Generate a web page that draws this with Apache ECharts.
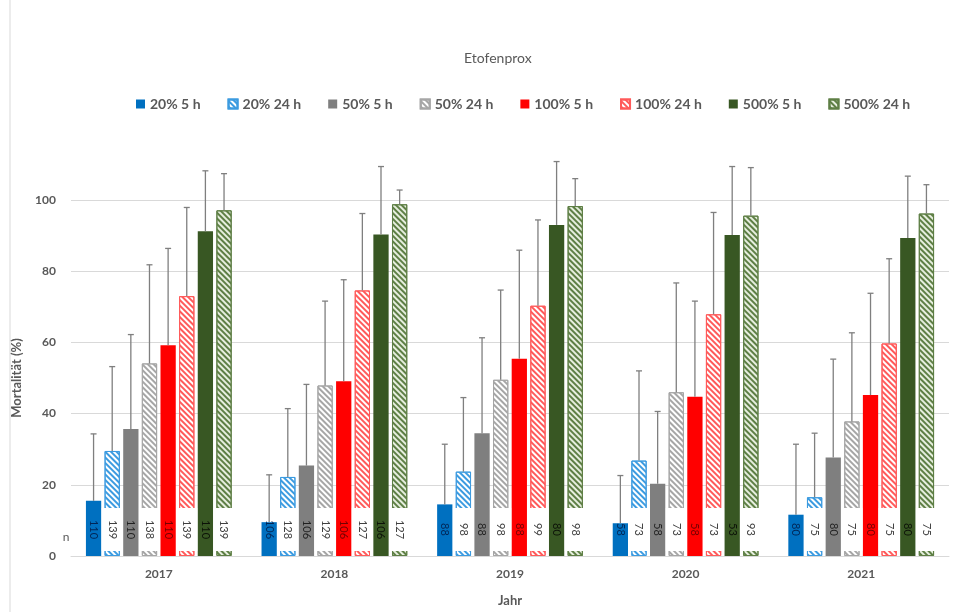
<!DOCTYPE html>
<html>
<head>
<meta charset="utf-8">
<script src="https://cdn.jsdelivr.net/npm/echarts@6/dist/echarts.min.js"></script>
<style>
  html, body { margin: 0; padding: 0; background: #fff; }
  #chart { width: 961px; height: 612px; }
</style>
</head>
<body>
<div id="chart"></div>
<script>
// Etofenprox mortality by year and dose/exposure time
const years = ['2017', '2018', '2019', '2020', '2021'];
const seriesNames = ['20% 5 h', '20% 24 h', '50% 5 h', '50% 24 h', '100% 5 h', '100% 24 h', '500% 5 h', '500% 24 h'];

// mean mortality (%)
const mean20_5h   = [15.5, 9.5, 14.5, 9.2, 11.6];
const mean20_24h  = [29.5, 22.2, 23.7, 26.8, 16.5];
const mean50_5h   = [35.7, 25.4, 34.5, 20.3, 27.7];
const mean50_24h  = [54.1, 47.9, 49.5, 46.0, 37.8];
const mean100_5h  = [59.2, 49.1, 55.4, 44.7, 45.2];
const mean100_24h = [73.0, 74.6, 70.3, 67.9, 59.7];
const mean500_5h  = [91.2, 90.3, 93.0, 90.2, 89.3];
const mean500_24h = [97.1, 98.8, 98.3, 95.6, 96.2];

// standard deviation (upper error bar)
const sd20_5h   = [18.8, 13.3, 16.9, 13.4, 19.8];
const sd20_24h  = [23.7, 19.2, 20.8, 25.2, 18.0];
const sd50_5h   = [26.5, 22.8, 26.8, 20.3, 27.6];
const sd50_24h  = [27.7, 23.7, 25.2, 30.7, 24.9];
const sd100_5h  = [27.2, 28.5, 30.5, 26.9, 28.6];
const sd100_24h = [24.9, 21.6, 24.1, 28.6, 23.8];
const sd500_5h  = [17.0, 19.1, 17.8, 19.2, 17.4];
const sd500_24h = [10.3, 4.0, 7.7, 13.5, 8.1];

// sample sizes (n)
const n20_5h   = [110, 106, 88, 58, 80];
const n20_24h  = [139, 128, 98, 73, 75];
const n50_5h   = [110, 106, 88, 58, 80];
const n50_24h  = [138, 129, 98, 73, 75];
const n100_5h  = [110, 106, 88, 58, 80];
const n100_24h = [139, 127, 99, 73, 75];
const n500_5h  = [110, 106, 80, 53, 80];
const n500_24h = [139, 127, 98, 93, 75];

const yTicks = [0, 20, 40, 60, 80, 100];

const means = [mean20_5h, mean20_24h, mean50_5h, mean50_24h, mean100_5h, mean100_24h, mean500_5h, mean500_24h];
const sds = [sd20_5h, sd20_24h, sd50_5h, sd50_24h, sd100_5h, sd100_24h, sd500_5h, sd500_24h];
const ns = [n20_5h, n20_24h, n50_5h, n50_24h, n100_5h, n100_24h, n500_5h, n500_24h];

// styling per series: solid (5 h) or hatched (24 h)
const styles = [
  { solid: true,  color: '#0070C0', text: 'rgba(0,20,60,0.8)' },
  { solid: false, color: '#3C9BE0', base: '#FFFFFF' },
  { solid: true,  color: '#7F7F7F', text: 'rgba(0,0,0,0.75)' },
  { solid: false, color: '#A6A6A6', base: '#FFFFFF' },
  { solid: true,  color: '#FF0000', text: 'rgba(70,0,0,0.75)' },
  { solid: false, color: '#FF5A5A', base: '#FFFFFF' },
  { solid: true,  color: '#385723', text: 'rgba(0,0,0,0.8)' },
  { solid: false, color: '#5E7F45', base: '#E6EEDE' }
];

const CAT_GAP = 0.17;
const BAR_GAP = 0.22;
const FONT = 'Lato, "Open Sans", sans-serif';
const GREY = '#595959';
const N = seriesNames.length;

// horizontal centre of bar `si` inside category `cat`, same layout rule as the bar series
function barCenterX(api, cat, si) {
  const band = api.size([1, 0])[0];
  const w = (band - band * CAT_GAP) / (N + (N - 1) * BAR_GAP);
  const total = N * w + (N - 1) * w * BAR_GAP;
  return api.coord([cat, 0])[0] - total / 2 + si * w * (1 + BAR_GAP) + w / 2;
}

const barSeries = seriesNames.map((name, i) => {
  const st = styles[i];
  const itemStyle = st.solid
    ? { color: st.color }
    : {
        color: st.base,
        borderColor: st.color,
        borderWidth: 1,
        decal: {
          symbol: 'rect',
          symbolSize: 1,
          color: st.color,
          dashArrayX: [1, 0],
          dashArrayY: [1.5, 1.5],
          rotation: Math.PI / 4
        }
      };
  return {
    name,
    type: 'bar',
    barGap: (BAR_GAP * 100) + '%',
    barCategoryGap: (CAT_GAP * 100) + '%',
    data: means[i],
    itemStyle,
    emphasis: { disabled: true },
    z: 2
  };
});

// error bars: [category, seriesIndex, mean, mean + sd]
const errData = [];
means.forEach((arr, i) => {
  arr.forEach((v, j) => errData.push([j, i, v, v + sds[i][j]]));
});

const errSeries = {
  type: 'custom',
  name: 'SD',
  data: errData,
  encode: { x: 0, y: 3 },
  clip: false,
  z: 5,
  silent: true,
  renderItem: function (params, api) {
    const cat = api.value(0);
    const x = barCenterX(api, cat, api.value(1));
    const y0 = api.coord([cat, api.value(2)])[1];
    const y1 = api.coord([cat, api.value(3)])[1];
    const style = { stroke: '#7F7F7F', lineWidth: 1.3 };
    return {
      type: 'group',
      children: [
        { type: 'line', shape: { x1: x, y1: y0, x2: x, y2: y1 }, style },
        { type: 'line', shape: { x1: x - 3, y1: y1, x2: x + 3, y2: y1 }, style }
      ]
    };
  }
};

// sample size labels at the foot of each bar: [category, seriesIndex, n]
const nData = [];
ns.forEach((arr, i) => {
  arr.forEach((v, j) => nData.push([j, i, v]));
});

const nSeries = {
  type: 'custom',
  name: 'n',
  data: nData,
  encode: { x: 0, y: 2 },
  clip: false,
  z: 6,
  silent: true,
  renderItem: function (params, api) {
    const cat = api.value(0);
    const si = api.value(1);
    const st = styles[si];
    const x = barCenterX(api, cat, si);
    const base = api.coord([cat, 0])[1];
    const cy = base - 26.5;
    const children = [];
    if (!st.solid) {
      children.push({
        type: 'rect',
        shape: { x: x - 10.5, y: cy - 21.5, width: 21, height: 43 },
        style: { fill: '#FFFFFF' }
      });
    }
    children.push({
      type: 'text',
      x: x,
      y: cy,
      rotation: -Math.PI / 2,
      style: {
        text: String(api.value(2)),
        fontFamily: FONT,
        fontSize: 11,
        fill: st.solid ? st.text : '#404040',
        align: 'center',
        verticalAlign: 'middle'
      }
    });
    return { type: 'group', children };
  }
};

const chart = echarts.init(document.getElementById('chart'), null, { renderer: 'canvas' });
chart.setOption({
  animation: false,
  backgroundColor: '#FFFFFF',
  title: {
    text: 'Etofenprox',
    left: 459,
    top: 46,
    textStyle: { fontFamily: FONT, fontSize: 14, fontWeight: 'normal', color: GREY }
  },
  legend: {
    data: seriesNames,
    top: 92,
    left: 131,
    itemWidth: 9,
    itemHeight: 9,
    itemGap: 27,
    icon: 'rect',
    textStyle: { fontFamily: FONT, fontSize: 14, fontWeight: 'bold', color: GREY }
  },
  grid: { left: 71, right: 12, top: 200, bottom: 51, containLabel: false },
  xAxis: {
    type: 'category',
    data: years,
    name: 'Jahr',
    nameLocation: 'middle',
    nameGap: 38,
    nameTextStyle: { fontFamily: FONT, fontSize: 13, fontWeight: 'bold', color: GREY },
    axisLine: { lineStyle: { color: '#D9D9D9' } },
    axisTick: { show: false },
    axisLabel: { fontFamily: FONT, fontSize: 12, fontWeight: 'bold', color: GREY, margin: 12 }
  },
  yAxis: {
    type: 'value',
    min: yTicks[0],
    max: yTicks[yTicks.length - 1],
    interval: 20,
    name: 'Mortalität (%)',
    nameLocation: 'middle',
    nameGap: 48,
    nameTextStyle: { fontFamily: FONT, fontSize: 13, fontWeight: 'bold', color: GREY },
    axisLine: { show: false },
    axisTick: { show: false },
    axisLabel: { fontFamily: FONT, fontSize: 12, fontWeight: 'bold', color: GREY, margin: 15 },
    splitLine: { lineStyle: { color: '#D9D9D9' } }
  },
  graphic: [
    { type: 'line', shape: { x1: 10, y1: 0, x2: 10, y2: 612 }, style: { stroke: '#D9D9D9', lineWidth: 1 } },
    { type: 'text', x: 66, y: 537, style: { text: 'n', fontFamily: FONT, fontSize: 12, fill: GREY, textAlign: 'center', textVerticalAlign: 'middle' } }
  ],
  series: barSeries.concat([errSeries, nSeries])
});
</script>
</body>
</html>
